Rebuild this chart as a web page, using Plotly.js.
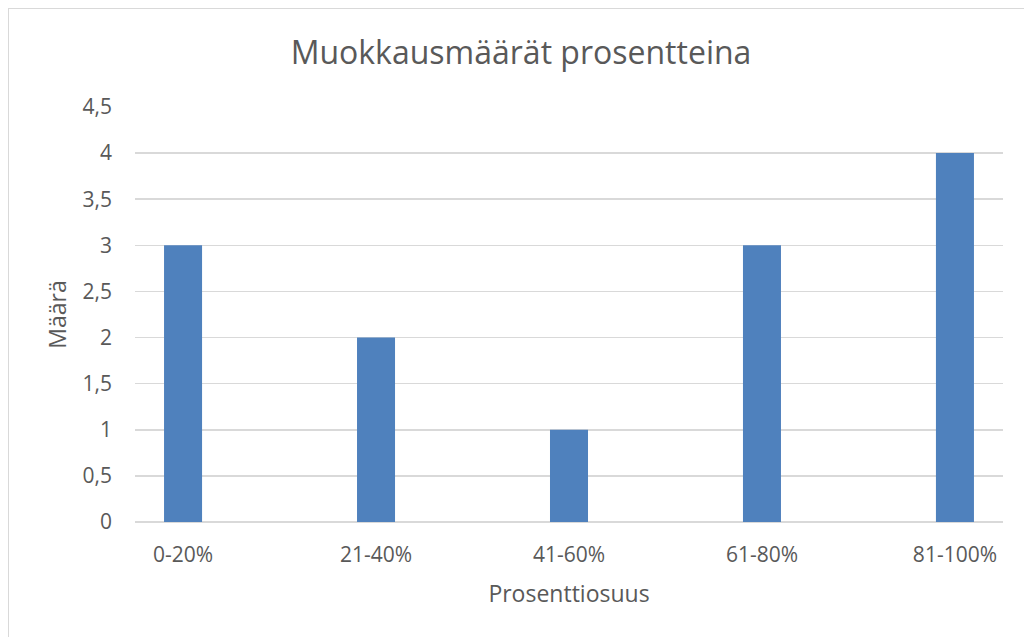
<!DOCTYPE html>
<html>
<head>
<meta charset="utf-8">
<script src="https://cdn.plot.ly/plotly-3.0.1.min.js"></script>
<style>
  html, body { margin: 0; padding: 0; background: #fff; }
  #wrap { position: relative; width: 1024px; height: 637px; overflow: hidden; }
  #frame { position: absolute; left: 8px; top: 8px; width: 1030px; height: 640px;
           border-left: 1.5px solid #d9d9d9; border-top: 1.5px solid #d9d9d9; box-sizing: border-box; pointer-events: none; z-index: 5; }
  #chart { width: 1024px; height: 637px; }
</style>
</head>
<body>
<div id="wrap">
  <div id="chart"></div>
  <div id="frame"></div>
</div>
<script>
const categories = ['0-20%', '21-40%', '41-60%', '61-80%', '81-100%'];
const counts = [3, 2, 1, 3, 4];
const yTickVals = [0, 0.5, 1, 1.5, 2, 2.5, 3, 3.5, 4, 4.5];
const yTickText = ['0', '0,5', '1', '1,5', '2', '2,5', '3', '3,5', '4', '4,5'];
const chartTitle = 'Muokkausmäärät prosentteina';
const xTitle = 'Prosenttiosuus';
const yTitle = 'Määrä';

const textColor = '#595959';
const fontFam = '"Open Sans", sans-serif';

const trace = {
  type: 'bar',
  x: categories,
  y: counts,
  width: 0.197,
  marker: { color: '#4F81BD', line: { width: 0 } },
  hoverinfo: 'x+y'
};

const layout = {
  width: 1024,
  height: 637,
  paper_bgcolor: '#ffffff',
  plot_bgcolor: '#ffffff',
  margin: { l: 135, r: 21, t: 107, b: 115, autoexpand: false },
  showlegend: false,
  font: { family: fontFam, color: textColor },
  title: {
    text: chartTitle,
    font: { family: fontFam, size: 32, color: textColor },
    x: 521 / 1024, xref: 'container', xanchor: 'center',
    y: 1 - 53 / 637, yref: 'container', yanchor: 'middle'
  },
  xaxis: {
    type: 'category',
    range: [-0.249, 4.249],
    showgrid: false,
    showline: false,
    zeroline: false,
    ticks: '',
    ticklabelstandoff: 18,
    tickfont: { family: fontFam, size: 21, color: textColor },
    automargin: false,
    title: { text: xTitle, font: { family: fontFam, size: 23, color: textColor }, standoff: 18 }
  },
  yaxis: {
    range: [0, 4.5],
    tickvals: yTickVals,
    ticktext: yTickText,
    showgrid: true,
    gridcolor: '#d9d9d9',
    gridwidth: 1.5,
    zeroline: true,
    zerolinecolor: '#d9d9d9',
    zerolinewidth: 1.5,
    showline: false,
    ticks: '',
    ticklabelstandoff: 22,
    tickfont: { family: fontFam, size: 21, color: textColor },
    automargin: false,
    title: { text: yTitle, font: { family: fontFam, size: 23, color: textColor }, standoff: 9 }
  }
};

Plotly.newPlot('chart', [trace], layout, { displayModeBar: false, staticPlot: true });
</script>
</body>
</html>
